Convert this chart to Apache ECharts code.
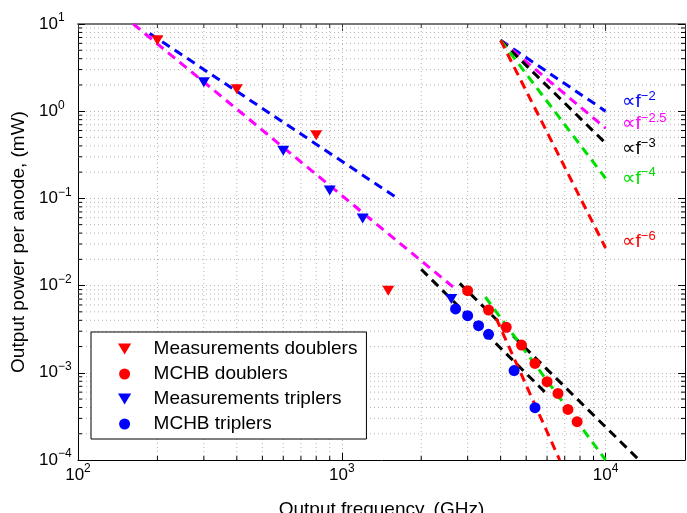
<!DOCTYPE html>
<html>
<head>
<meta charset="utf-8">
<script src="https://cdn.jsdelivr.net/npm/echarts@6/dist/echarts.min.js"></script>
<style>
html,body{margin:0;padding:0;background:#fff;}
#chart{width:687px;height:513px;}
</style>
</head>
<body>
<div id="chart"></div>
<script>
// ---- data ----
const measDoublersF = [200, 400, 800, 1500];
const measDoublersP = [6.5, 1.78, 0.53, 0.0087];
const mchbDoublersF = [3000, 3600, 4200, 4800, 5400, 6000, 6600, 7200, 7800];
const mchbDoublersP = [0.00875, 0.00525, 0.00333, 0.00208, 0.00128, 0.00079, 0.00058, 0.00038, 0.000275];
const measTriplersF = [300, 600, 900, 1200, 2600];
const measTriplersP = [2.15, 0.352, 0.123, 0.059, 0.0070];
const mchbTriplersF = [2700, 3000, 3300, 3600, 4500, 5400];
const mchbTriplersP = [0.0054, 0.00452, 0.00347, 0.00276, 0.00106, 0.000398];

// fitted dashed lines: [f start, f end] and [P start, P end]
const fitBlueF = [187, 1590];     const fitBlueP = [7.8, 0.105];
const fitMagF = [162, 2680];      const fitMagP = [10, 0.0093];
const fitBlackAF = [2000, 5880];  const fitBlackAP = [0.0154, 0.000603];
const fitBlackBF = [2800, 13400]; const fitBlackBP = [0.0106, 0.0001];
const fitGreenF = [3500, 10000];  const fitGreenP = [0.0074, 0.0001];
const fitRedF = [3850, 6700];     const fitRedP = [0.0042, 0.0001];

// power-law reference fan
const fanF = [4000, 10000];
const fanStartP = 6.5;
const fanEndP = [1.0, 0.64, 0.43, 0.17, 0.027];
const fanExp = ['−2', '−2.5', '−3', '−4', '−6'];
const fanColors = ['#0000ff', '#ff00ff', '#000000', '#00e000', '#ff0000'];
const fanLabelDy = [-9, -4, 6, 0, -6];

const legendNames = ['Measurements doublers', 'MCHB doublers', 'Measurements triplers', 'MCHB triplers'];
const xTitle = 'Output frequency, (GHz)';
const yTitle = 'Output power per anode, (mW)';

const X_MIN = 100, X_MAX = 20000, Y_MIN = 1e-4, Y_MAX = 10;
const FONT = 'Liberation Sans, Arial, Helvetica, sans-serif';
const GRID_COLOR = '#b4b4b4';
const GRID_DASH = [1, 3];

function minorValues(lo, hi) {
  const out = [];
  for (let d = lo; d < hi; d *= 10) {
    for (let m = 2; m <= 9; m++) { const v = d * m; if (v < hi) out.push(v); }
  }
  return out;
}
const minorX = minorValues(X_MIN, X_MAX);
const minorY = minorValues(Y_MIN, Y_MAX);

function zip(a, b) { return a.map((v, i) => [v, b[i]]); }
function expLabel(v) {
  const l = Math.log10(v);
  const e = Math.round(l);
  if (Math.abs(l - e) > 1e-6) return '';
  return '{a|10}{b|' + (e < 0 ? '−' + (-e) : e) + '}';
}

const dash = [9, 6];
function dashLine(name, f, p, color) {
  return {
    name: name, type: 'line', data: zip(f, p), showSymbol: false, symbol: 'none',
    lineStyle: { color: color, width: 3, type: dash }, silent: true, z: 3
  };
}

const triPath = 'path://M0,0L12,0L6,10Z';

const series = [];
series.push({
  type: 'custom', z: 1, silent: true,
  data: minorX.map(v => [v, Y_MIN]),
  encode: { x: 0, y: 1 },
  renderItem: function (params, api) {
    const v = api.value(0);
    const b = api.coord([v, Y_MIN]);
    const t = api.coord([v, Y_MAX]);
    return { type: 'group', children: [
      { type: 'line', shape: { x1: b[0], y1: b[1], x2: t[0], y2: t[1] }, style: { stroke: GRID_COLOR, lineWidth: 1, lineDash: GRID_DASH } },
      { type: 'line', shape: { x1: b[0], y1: b[1], x2: b[0], y2: b[1] - 4 }, style: { stroke: '#000', lineWidth: 1 } },
      { type: 'line', shape: { x1: t[0], y1: t[1], x2: t[0], y2: t[1] + 4 }, style: { stroke: '#333', lineWidth: 1 } }
    ] };
  }
});
series.push({
  type: 'custom', z: 1, silent: true,
  data: minorY.map(v => [X_MIN, v]),
  encode: { x: 0, y: 1 },
  renderItem: function (params, api) {
    const v = api.value(1);
    const l = api.coord([X_MIN, v]);
    const r = api.coord([X_MAX, v]);
    return { type: 'group', children: [
      { type: 'line', shape: { x1: l[0], y1: l[1], x2: r[0], y2: r[1] }, style: { stroke: GRID_COLOR, lineWidth: 1, lineDash: GRID_DASH } },
      { type: 'line', shape: { x1: l[0], y1: l[1], x2: l[0] + 4, y2: l[1] }, style: { stroke: '#000', lineWidth: 1 } },
      { type: 'line', shape: { x1: r[0], y1: r[1], x2: r[0] - 4, y2: r[1] }, style: { stroke: '#000', lineWidth: 1 } }
    ] };
  }
});

series.push(dashLine('fitBlue', fitBlueF, fitBlueP, '#0000ff'));
series.push(dashLine('fitMag', fitMagF, fitMagP, '#ff00ff'));
series.push(dashLine('fitBlackA', fitBlackAF, fitBlackAP, '#000000'));
series.push(dashLine('fitBlackB', fitBlackBF, fitBlackBP, '#000000'));
series.push(dashLine('fitGreen', fitGreenF, fitGreenP, '#00e000'));
series.push(dashLine('fitRed', fitRedF, fitRedP, '#ff0000'));

fanEndP.forEach((pe, i) => {
  const s = dashLine('fan' + i, fanF, [fanStartP, pe], fanColors[i]);
  s.endLabel = {
    show: true, distance: 16, offset: [0, fanLabelDy[i]],
    formatter: '{a|∝f}{b|' + fanExp[i] + '}',
    rich: {
      a: { fontSize: 19, lineHeight: 24, color: fanColors[i], fontFamily: FONT },
      b: { fontSize: 13, lineHeight: 14, verticalAlign: 'top', color: fanColors[i], fontFamily: FONT }
    }
  };
  series.push(s);
});

function scatter(name, f, p, symbol, size, color) {
  return { name: name, type: 'scatter', data: zip(f, p), symbol: symbol, symbolSize: size,
    itemStyle: { color: color, opacity: 1 }, z: 5 };
}
series.push(scatter(legendNames[0], measDoublersF, measDoublersP, triPath, [12, 10], '#ff0000'));
series.push(scatter(legendNames[1], mchbDoublersF, mchbDoublersP, 'circle', 11, '#ff0000'));
series.push(scatter(legendNames[2], measTriplersF, measTriplersP, triPath, [12, 10], '#0000ff'));
series.push(scatter(legendNames[3], mchbTriplersF, mchbTriplersP, 'circle', 11, '#0000ff'));

const labelRich = {
  a: { fontSize: 17, lineHeight: 24, fontFamily: FONT, color: '#000' },
  b: { fontSize: 12, lineHeight: 13, verticalAlign: 'top', fontFamily: FONT, color: '#000' }
};

const option = {
  animation: false,
  backgroundColor: '#fff',
  grid: { left: 78, right: 2, top: 24, bottom: 53, containLabel: false, outerBoundsMode: 'none' },
  legend: {
    data: legendNames.map(n => ({ name: n, itemStyle: { opacity: 1 } })),
    orient: 'vertical', left: 91, top: 332,
    itemWidth: 48, itemHeight: 11, itemGap: 5,
    padding: [7, 9, 5, 27],
    borderColor: '#000', borderWidth: 1, backgroundColor: '#fff',
    textStyle: { fontSize: 19, lineHeight: 20, fontFamily: FONT, color: '#000' },
    selectedMode: false, z: 10
  },
  xAxis: [{
    type: 'log', logBase: 10, min: X_MIN, max: X_MAX,
    name: xTitle, nameLocation: 'middle', nameGap: 40,
    nameTextStyle: { fontSize: 19, fontFamily: FONT, color: '#000' },
    axisLine: { lineStyle: { color: '#000', width: 1 } },
    axisTick: { inside: true, length: 7, lineStyle: { color: '#000' } },
    axisLabel: { formatter: expLabel, rich: labelRich, margin: 3 },
    splitLine: { show: true, lineStyle: { color: GRID_COLOR, type: GRID_DASH } },
    minorTick: { show: false }, minorSplitLine: { show: false }
  }, {
    type: 'log', logBase: 10, min: X_MIN, max: X_MAX, position: 'top',
    axisLine: { lineStyle: { color: '#777', width: 2 } },
    axisTick: { inside: true, length: 7, lineStyle: { color: '#333' } },
    axisLabel: { show: false }, splitLine: { show: false }
  }],
  yAxis: [{
    type: 'log', logBase: 10, min: Y_MIN, max: Y_MAX,
    name: yTitle, nameLocation: 'middle', nameGap: 50, nameRotate: 90,
    nameTextStyle: { fontSize: 19, fontFamily: FONT, color: '#000' },
    axisLine: { lineStyle: { color: '#000', width: 1 } },
    axisTick: { inside: true, length: 7, lineStyle: { color: '#000' } },
    axisLabel: { formatter: expLabel, rich: labelRich, margin: 39, align: 'left' },
    splitLine: { show: true, lineStyle: { color: GRID_COLOR, type: GRID_DASH } }
  }, {
    type: 'log', logBase: 10, min: Y_MIN, max: Y_MAX, position: 'right',
    axisLine: { lineStyle: { color: '#000', width: 1 } },
    axisTick: { inside: true, length: 7, lineStyle: { color: '#000' } },
    axisLabel: { show: false }, splitLine: { show: false }
  }],
  series: series
};

const chart = echarts.init(document.getElementById('chart'), null, { renderer: 'canvas' });
chart.setOption(option);
</script>
</body>
</html>
